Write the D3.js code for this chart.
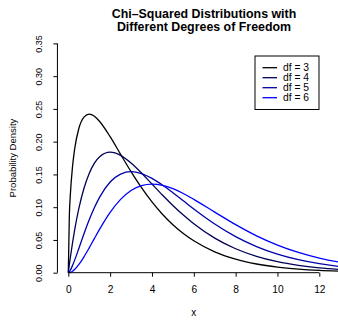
<!DOCTYPE html>
<html>
<head>
<meta charset="utf-8">
<script src="https://cdn.jsdelivr.net/npm/d3@7"></script>
<style>
  html, body { margin: 0; padding: 0; background: #fff; }
  svg { display: block; font-family: "Liberation Sans", Arial, sans-serif; }
</style>
</head>
<body>
<svg id="chart" width="338" height="324"></svg>
<script>
// ---- data ----
const xValues = [0, 0.05, 0.1, 0.2, 0.3, 0.5, 0.75, 1, 1.25, 1.5, 2, 2.5, 3, 3.5, 4, 4.5, 5, 5.5, 6, 7, 8, 9, 10, 11, 12, 13, 14];
const df3 = [0, 0.0870, 0.1200, 0.1614, 0.1881, 0.2197, 0.2375, 0.2420, 0.2387, 0.2308, 0.2076, 0.1807, 0.1542, 0.1297, 0.1080, 0.0892, 0.0732, 0.0598, 0.0487, 0.0319, 0.0207, 0.0133, 0.0085, 0.0054, 0.0034, 0.0022, 0.0014];
const df4 = [0, 0.0122, 0.0238, 0.0452, 0.0646, 0.0974, 0.1289, 0.1516, 0.1673, 0.1771, 0.1839, 0.1791, 0.1674, 0.1521, 0.1353, 0.1186, 0.1026, 0.0879, 0.0747, 0.0528, 0.0366, 0.0250, 0.0168, 0.0112, 0.0074, 0.0049, 0.0032];
const df5 = [0, 0.0015, 0.0040, 0.0108, 0.0188, 0.0366, 0.0594, 0.0807, 0.0995, 0.1154, 0.1384, 0.1506, 0.1542, 0.1513, 0.1440, 0.1338, 0.1220, 0.1097, 0.0973, 0.0744, 0.0551, 0.0399, 0.0283, 0.0198, 0.0137, 0.0094, 0.0064];
const df6 = [0, 0.0002, 0.0006, 0.0023, 0.0048, 0.0122, 0.0242, 0.0379, 0.0523, 0.0664, 0.0920, 0.1119, 0.1255, 0.1330, 0.1353, 0.1334, 0.1283, 0.1209, 0.1120, 0.0925, 0.0733, 0.0562, 0.0421, 0.0309, 0.0223, 0.0159, 0.0112];
const seriesNames = ["df = 3", "df = 4", "df = 5", "df = 6"];
const seriesColors = ["#000000", "#000055", "#0000AA", "#0000FF"];
const xTicks = [0, 2, 4, 6, 8, 10, 12];
const yTicks = [0, 0.05, 0.10, 0.15, 0.20, 0.25, 0.30, 0.35];
const titleLines = ["Chi\u2013Squared Distributions with", "Different Degrees of Freedom"];

const series = [df3, df4, df5, df6].map((vals, i) => ({
  name: seriesNames[i], color: seriesColors[i],
  points: xValues.map((x, j) => [x, vals[j]])
}));

// ---- layout ----
const svg = d3.select("#chart");
const x = d3.scaleLinear().domain([0, 12]).range([68.3, 319.3]);
const y = d3.scaleLinear().domain([0, 0.35]).range([272.7, 43.4]);
const plotLeft = x(-0.52), plotRight = x(13.52);

svg.append("defs").append("clipPath").attr("id", "plotclip")
  .append("rect").attr("x", plotLeft).attr("y", 30)
  .attr("width", plotRight - plotLeft).attr("height", 272.7 - 30 + 1);

// ---- curves ----
const line = d3.line().x(d => x(d[0])).y(d => y(d[1])).curve(d3.curveMonotoneX);
svg.append("g").attr("clip-path", "url(#plotclip)")
  .selectAll("path").data(series).join("path")
  .attr("d", d => line(d.points))
  .attr("fill", "none")
  .attr("stroke", d => d.color)
  .attr("stroke-width", 1.3)
  .attr("stroke-linejoin", "round");

// ---- axes ----
const xAxis = d3.axisBottom(x).tickValues(xTicks).tickSize(4).tickPadding(9)
  .tickFormat(d3.format("d"));
const gx = svg.append("g").attr("transform", "translate(0,272.7)").call(xAxis);
gx.select(".domain").attr("d", `M${x(0)},0H${x(12)}`).attr("stroke", "#000").attr("stroke-width", 1);
gx.selectAll(".tick line").attr("stroke", "#000");
gx.selectAll(".tick text").attr("font-size", 10.2).attr("font-family", "Liberation Sans, Arial, sans-serif")
  .attr("fill", "#000");

const yAxis = d3.axisLeft(y).tickValues(yTicks).tickSize(4).tickFormat(d3.format(".2f"));
const gy = svg.append("g").attr("transform", `translate(${plotLeft},0)`).call(yAxis);
gy.select(".domain").attr("d", `M0,${y(0)}V${y(0.35)}`).attr("stroke", "#000").attr("stroke-width", 1);
gy.selectAll(".tick line").attr("stroke", "#000");
gy.selectAll(".tick text")
  .attr("font-size", 9).attr("font-family", "Liberation Sans, Arial, sans-serif").attr("fill", "#000")
  .attr("x", null).attr("dy", null)
  .attr("text-anchor", "middle")
  .attr("transform", `translate(${42 - plotLeft},0) rotate(-90)`);

// ---- labels ----
svg.append("text").attr("x", x(6)).attr("y", 316)
  .attr("text-anchor", "middle").attr("font-size", 10).text("x");
svg.append("text").attr("transform", `translate(15.5,${(y(0) + y(0.35)) / 2}) rotate(-90)`)
  .attr("text-anchor", "middle").attr("font-size", 9.5).text("Probability Density");

svg.append("g").selectAll("text").data(titleLines).join("text")
  .attr("x", 204).attr("y", (d, i) => 17.5 + i * 13.2)
  .attr("text-anchor", "middle").attr("font-weight", "bold").attr("font-size", 12.4)
  .text(d => d);

// ---- legend ----
const lg = svg.append("g");
lg.append("rect").attr("x", 255).attr("y", 56).attr("width", 64).attr("height", 53.5)
  .attr("fill", "#fff").attr("stroke", "#000").attr("stroke-width", 1);
const rows = lg.selectAll("g.row").data(series).join("g").attr("class", "row")
  .attr("transform", (d, i) => `translate(0,${67.7 + i * 10})`);
rows.append("line").attr("x1", 262.5).attr("x2", 277).attr("y1", 0).attr("y2", 0)
  .attr("stroke", d => d.color).attr("stroke-width", 1.3);
rows.append("text").attr("x", 283).attr("y", 3.5).attr("font-size", 10.3).text(d => d.name);
</script>
</body>
</html>
